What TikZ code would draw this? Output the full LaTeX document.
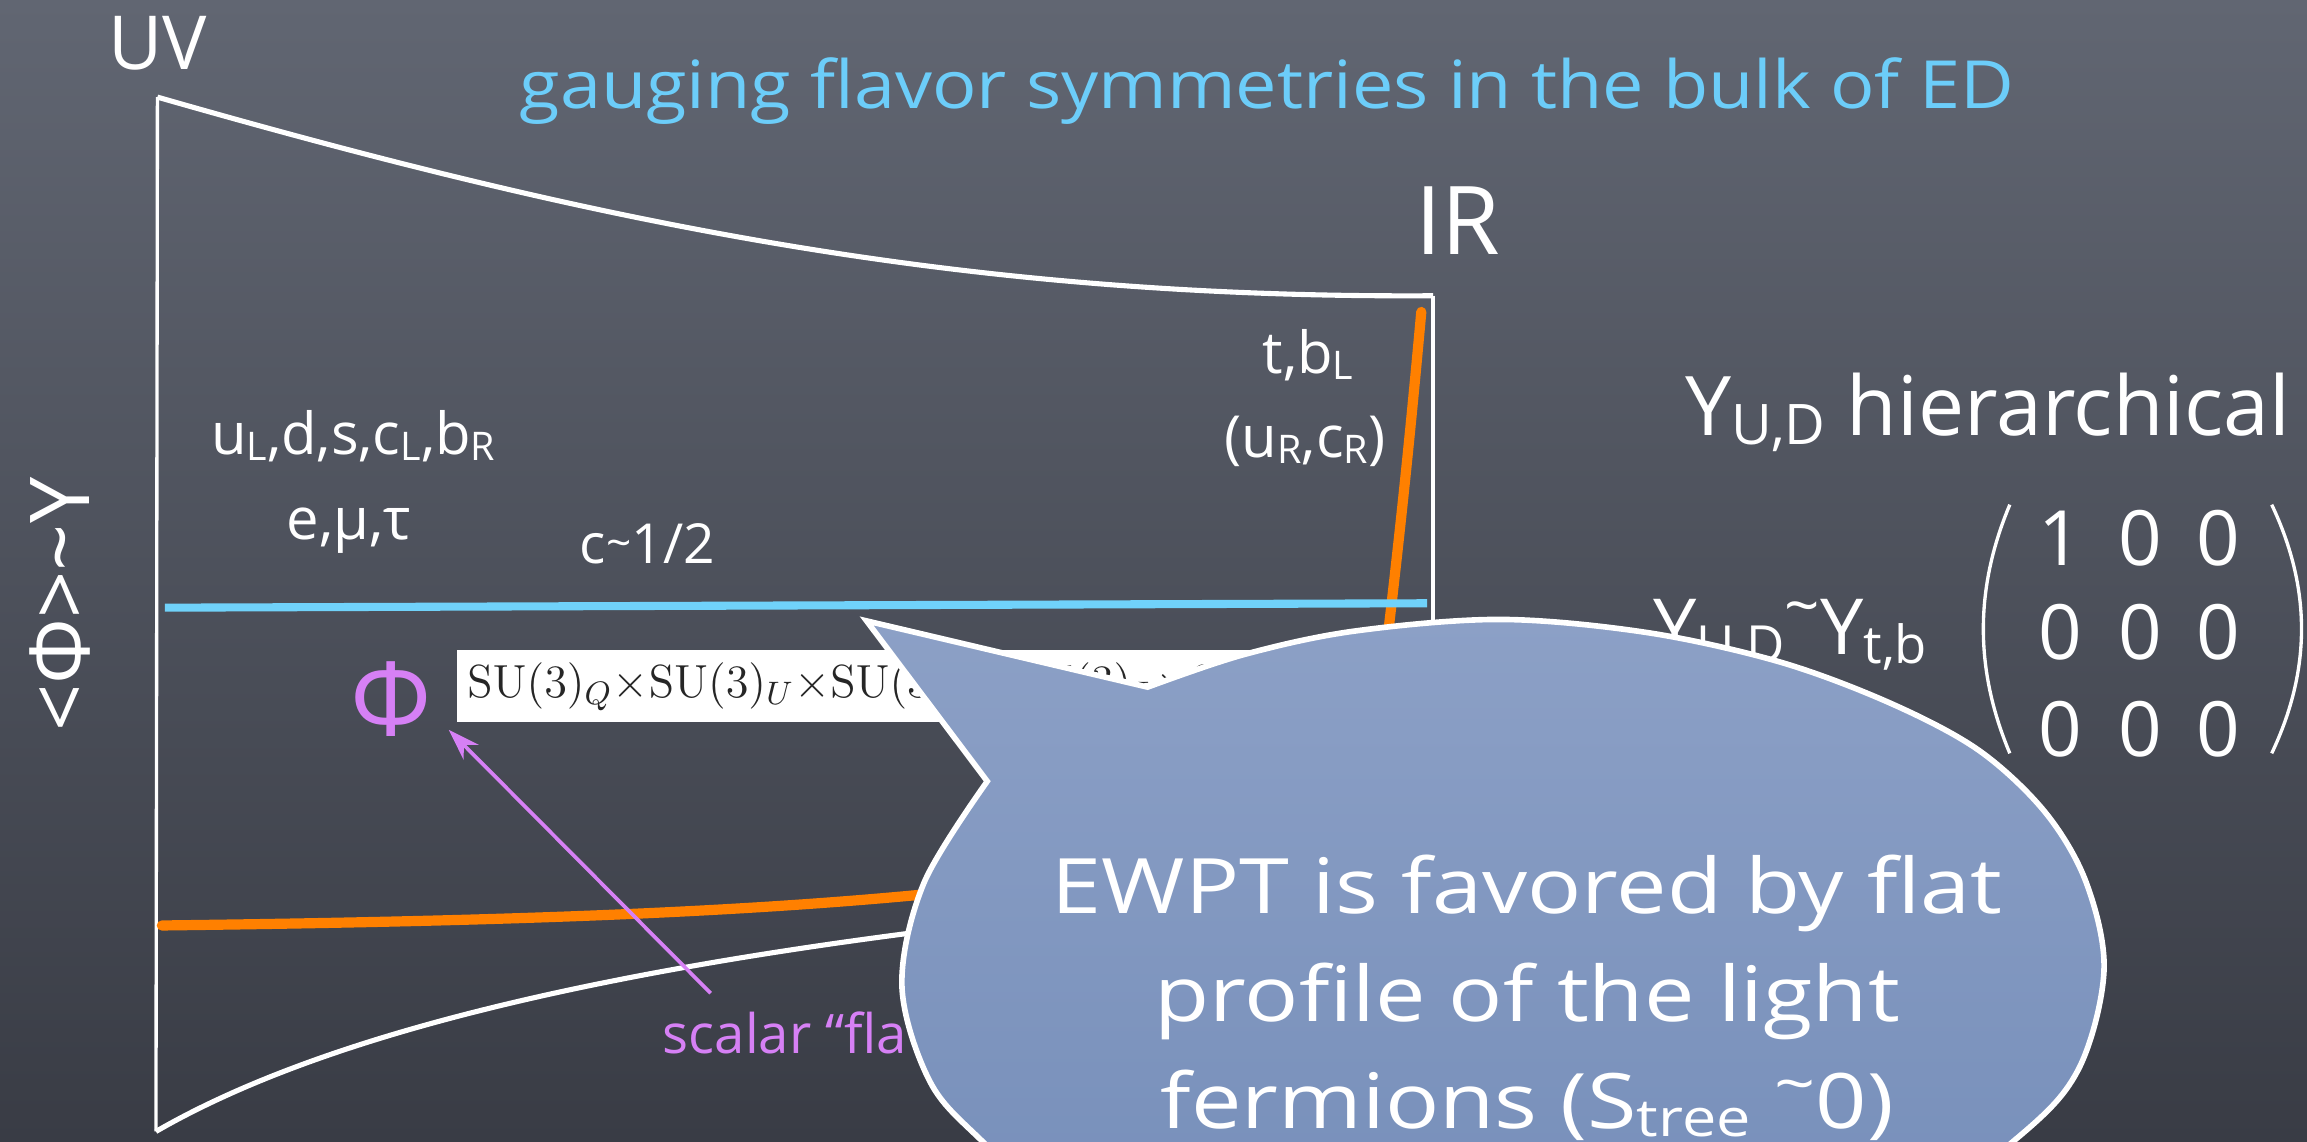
\RequirePackage{fix-cm}
\documentclass[tikz,border=0pt]{standalone}
\usepackage[no-math]{fontspec}
\setmainfont{Open Sans}
\usepackage{graphicx}
\usetikzlibrary{arrows.meta}
\definecolor{bgtop}{RGB}{97,102,114}
\definecolor{bgbot}{RGB}{57,60,69}
\definecolor{ttlblue}{RGB}{108,205,249}
\definecolor{lineblue}{RGB}{112,210,250}
\definecolor{orng}{RGB}{255,128,0}
\definecolor{purp}{RGB}{214,128,245}
\definecolor{bubtop}{RGB}{140,160,198}
\definecolor{bubbot}{RGB}{115,140,184}
\newcommand\fsz[1]{\fontsize{#1pt}{#1pt}\selectfont}
\newcommand\sbs[1]{\raisebox{-0.2ex}{\scalebox{0.68}{#1}}}
\newcommand\sq[2]{\scalebox{1}[#1]{#2}}
\newcommand\tld{\textasciitilde}
\begin{document}
\begin{tikzpicture}[x=0.014713cm,y=-0.014713cm,
  chalk/.style={draw=white,line width=1.45pt},
  chalkthin/.style={draw=white,line width=0.95pt},
  txt/.style={text=white,inner sep=0pt,anchor=base},
  orangeline/.style={draw=orng,line width=2.9pt,line cap=round},
  blueline/.style={draw=lineblue,line width=2.3pt},
  bubblefill/.style={top color=bubtop,bottom color=bubbot},
  bubbleline/.style={draw=white,line width=1.6pt,line join=miter},
  purparrow/.style={draw=purp,line width=1.05pt,-{Stealth[length=9pt,width=6pt]}}]
\clip (0,0) rectangle (1568,776);
\fill[top color=bgtop,bottom color=bgbot] (0,0) rectangle (1568,776);

% outline of the extra dimension
\coordinate (UVt) at (107,66);
\coordinate (UVb) at (106,769);
\coordinate (IRt) at (974,201);
\coordinate (IRb) at (974,600);
\draw[chalkthin] (UVt) -- (UVb);
\draw[chalkthin] (IRt) -- (IRb);
\draw[chalk] (UVt) .. controls (400,150) and (650,203) .. (IRt);
\draw[chalk] (UVb) .. controls (260,680) and (550,630) .. (IRb);

% profiles
\coordinate (ob1) at (110,629);
\coordinate (ob2) at (700,600);
\draw[orangeline] (ob1) .. controls (350,626) and (540,620) .. (ob2);
\coordinate (or1) at (966,212);
\coordinate (or2) at (935,500);
\draw[orangeline] (or1) .. controls (958,300) and (950,380) .. (or2);
\coordinate (bl1) at (112,413);
\coordinate (bl2) at (970,410);
\draw[blueline] (bl1) -- (bl2);

% labels
\node[txt] (uv) at (107,47) {\fsz{21.2}UV};
\node[txt,text=ttlblue] (title) at (861,74) {\fsz{21}\sq{0.9}{gauging flavor symmetries in the bulk of ED}};
\node[txt] (ir) at (991,173) {\fsz{27}IR};
\node[txt] (light1) at (240,309) {\fsz{16.5}u\sbs{L},d,s,c\sbs{L},b\sbs{R}};
\node[txt] (light2) at (237,367) {\fsz{16.5}e,μ,τ};
\node[txt] (cval) at (440,383) {\fsz{15.7}c\raisebox{0.1em}{\scalebox{0.8}{\tld}}1/2};
\node[txt] (heavy1) at (889,254) {\fsz{16.5}t,b\sbs{L}};
\node[txt] (heavy2) at (887,311) {\fsz{16.5}(u\sbs{R},c\sbs{R})};
\node[txt,anchor=center,rotate=90] (vev) at (41,411) {\fsz{23.5}<Φ>\tld Y};

% flavon
\node[fill=white,text=black!85,inner xsep=3pt,inner ysep=3.6pt,text height=9.7pt,text depth=3.6pt,anchor=west] (su) at (310,466.5)
  {\fsz{13.2}$\mathrm{SU}(3)_Q{\times}\mathrm{SU}(3)_U{\times}\mathrm{SU}(3)_D{\times}\mathrm{SU}(3)_L{\times}\mathrm{SU}(3)_E$};
\node[txt,text=purp] (phi) at (266,500) {\fsz{29}Φ};
\coordinate (arrtail) at (483,675);
\coordinate (arrhead) at (305,496);
\draw[purparrow] (arrtail) -- (arrhead);
\node[txt,text=purp,anchor=base west] (scalar) at (450,716) {\fsz{15.5}scalar “flavon”};

% right side
\node[txt,anchor=base west] (hier) at (1145,296) {\fsz{23.4}Y\sbs{U,D} hierarchical};
\node[txt,anchor=base west] (ytb) at (1123,445) {\fsz{22}Y\sbs{U,D}\raisebox{0.35em}{\scalebox{0.8}{\tld}}Y\sbs{t,b}};
\coordinate (lp1) at (1366,343);
\coordinate (lp2) at (1366,512);
\coordinate (rp1) at (1544,343);
\coordinate (rp2) at (1544,512);
\draw[chalkthin] (lp1) .. controls (1342,400) and (1342,455) .. (lp2);
\draw[chalkthin] (rp1) .. controls (1571,400) and (1571,455) .. (rp2);
\foreach \r/\yy in {1/384,2/448,3/514}{
  \foreach \c/\xx in {1/1400,2/1455,3/1508}{
    \node[txt] (m\r\c) at (\xx,\yy) {\fsz{21.7}\ifnum\r\c=11 1\else 0\fi};
  }
}

% speech bubble
\coordinate (tip) at (589,422);
\def\bubblepts{(671,531) (628,600) (613,670) (632,735) (668,776) (740,840) (1000,900) (1260,855) (1368,776) (1412,728) (1430,660) (1418,600) (1390,552) (1345,510) (1285,478) (1210,450) (1120,430) (1020,421) (920,429) (845,445) (780,467)}
\fill[bubblefill] (tip) -- plot[smooth,tension=0.55] coordinates {\bubblepts} -- cycle;
\draw[bubbleline] (tip) -- plot[smooth,tension=0.55] coordinates {\bubblepts} -- cycle;
\node[txt] (b1) at (1038,620.6) {\fsz{25.6}\sq{0.85}{EWPT is favored by flat}};
\node[txt] (b2) at (1038,694) {\fsz{25.6}\sq{0.85}{profile of the light}};
\node[txt] (b3) at (1038,767) {\fsz{25.6}\sq{0.85}{fermions (S\sbs{tree} \raisebox{0.3em}{\scalebox{0.8}{\tld}}0)}};
\end{tikzpicture}
\end{document}
